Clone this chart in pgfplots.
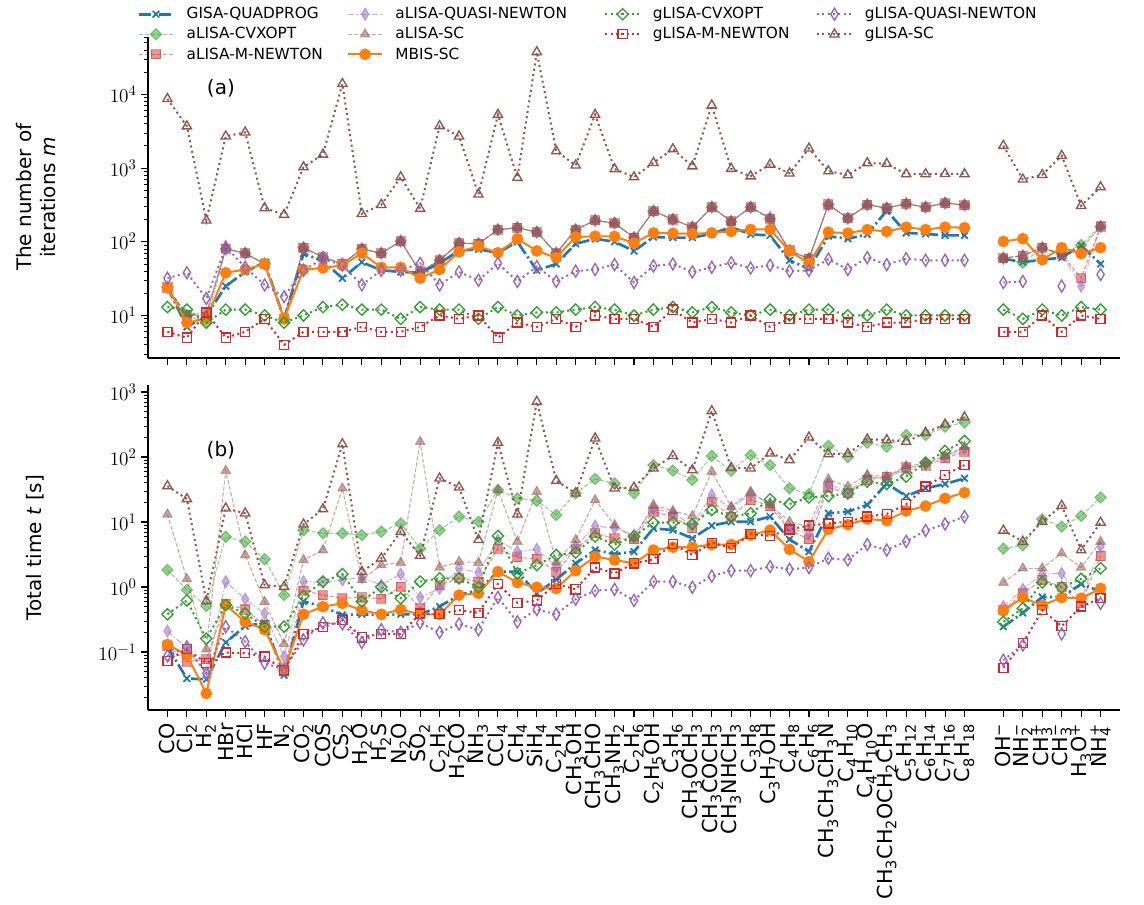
\documentclass[border=0pt]{standalone}
\usepackage{fontspec}
\setmainfont{DejaVu Sans}
\usepackage{pgfplots}
\usepackage{pgfplotstable}
\pgfplotsset{compat=1.18}
\definecolor{tblue}{HTML}{1F77B4}
\definecolor{torange}{HTML}{FF7F0E}
\definecolor{tgreen}{HTML}{2CA02C}
\definecolor{tred}{HTML}{D62728}
\definecolor{tpurple}{HTML}{9467BD}
\definecolor{tbrown}{HTML}{8C564B}
\newcommand{\s}[1]{\textsubscript{#1}}
\newcommand{\p}[1]{\textsuperscript{#1}}
\newcommand{\subsup}[2]{\textsubscript{\rlap{#1}}\textsuperscript{#2}}

\pgfplotstableread{
x GQ aCV aMN aQN aSC MB gCV gMN gQN gSC
0 24 24 24 24 24 24 13 6 32 8700
1 7 10 10 10 10 8 12 5 38 3700
2 10 8 11 10 10 9 8 11 17 195
3 25 80 80 80 80 38 12 5 85 2700
4 39 70 70 70 70 42 12 6 45 3050
5 53 50 50 50 50 50 10 9 26 287
6 9 9 9 9 9 9 8 4 18 233
7 69 83 83 83 83 42 10 6 41 1030
8 55 62 62 62 62 44 13 6 59 1530
9 32 50 50 50 50 48 14 6 48 13900
10 53 80 80 80 80 70 12 7 26 240
11 41 70 70 70 70 45 12 6 41 318
12 39 102 102 102 102 45 9 6 41 755
13 38 39 39 39 39 32 13 7 51 281
14 51 56 56 56 56 42 12 10 26 3730
15 76 96 96 96 96 73 12 9 39 2700
16 79 94 94 94 94 87 9 10 30 440
17 71 146 146 146 146 71 13 5 51 5300
18 100 155 155 155 155 110 10 8 29 740
19 41 135 135 135 135 75 11 7 46 37500
20 50 70 70 70 70 61 11 9 29 1700
21 94 146 146 146 146 116 12 7 40 1090
22 110 195 195 195 195 119 13 10 42 5300
23 100 179 179 179 179 118 12 9 49 970
24 75 114 114 114 114 96 10 9 28 755
25 116 261 261 261 261 132 12 7 47 1180
26 114 201 201 201 201 130 13 12 50 1810
27 114 158 158 158 158 128 11 8 39 1060
28 128 295 295 295 295 132 13 9 45 7080
29 158 189 189 189 189 138 11 8 52 980
30 126 295 295 295 295 147 10 10 44 775
31 122 205 205 215 205 147 12 7 48 1120
32 56 76 76 76 76 75 10 9 40 850
33 43 59 59 59 59 51 12 9 41 1850
34 119 321 321 321 321 135 12 9 58 910
35 110 208 208 208 208 131 10 8 42 805
36 126 318 318 318 318 146 10 7 61 1170
37 266 287 287 287 287 138 12 8 49 1145
38 132 328 328 328 328 158 10 8 59 830
39 128 295 295 295 295 146 10 9 56 830
40 122 335 335 335 335 158 10 9 56 835
41 122 315 315 315 315 155 10 9 56 830
42 nan nan nan nan nan nan nan nan nan nan
43 59 60 60 60 60 101 12 6 28 2010
44 53 52 65 65 65 110 9 6 29 702
45 57 83 83 83 83 57 12 10 nan 810
46 61 68 68 68 68 83 10 6 25 1470
47 89 91 32 25 80 69 13 10 nan 308
48 50 161 161 161 161 83 12 9 36 552
}\iter

\pgfplotstableread{
x GQ aCV aMN aQN aSC MB gCV gMN gQN gSC
0 0.12 1.83 0.125 0.21 13.1 0.13 0.38 0.073 0.087 35.8
1 0.039 0.9 0.071 0.115 1.33 0.09 0.62 0.11 0.12 22.6
2 0.038 0.51 0.077 0.047 0.11 0.023 0.16 0.068 0.047 0.61
3 0.14 5.9 0.55 1.21 61.7 0.53 0.53 0.098 0.245 16.2
4 0.25 5.0 0.45 0.65 3.1 0.29 0.39 0.096 0.144 13.6
5 0.28 2.67 0.26 0.39 0.59 0.22 0.245 0.085 0.067 1.07
6 0.044 0.75 0.053 0.085 0.133 0.053 0.245 0.052 0.054 1.01
7 0.6 7.5 0.88 1.21 2.6 0.38 0.73 0.19 0.153 9.2
8 0.5 6.7 0.75 1.17 3.7 0.5 1.21 0.24 0.28 15.8
9 0.37 6.7 0.67 1.28 33 0.56 1.58 0.31 0.27 158
10 0.38 6.3 0.69 1.41 1.28 0.44 0.6 0.168 0.14 1.72
11 0.37 7.1 0.66 1.07 2.18 0.38 1.0 0.19 0.22 2.76
12 0.38 9.5 1.01 1.58 2.37 0.45 0.67 0.19 0.2 7.1
13 0.38 3.9 0.47 0.69 172 0.38 1.21 0.39 0.28 3.04
14 0.5 7.5 1.07 0.95 2.0 0.38 1.36 0.38 0.2 47
15 0.75 12.1 1.36 1.94 2.45 0.75 1.36 0.44 0.27 34.1
16 0.9 10.1 1.21 1.66 2.37 0.8 0.99 0.40 0.22 5.3
17 1.72 31 3.9 5.3 31 1.72 6.1 1.11 0.69 166
18 1.72 23.1 2.86 3.5 5.0 1.17 1.62 0.57 0.29 13.1
19 0.8 21.3 2.7 3.8 29.3 0.99 2.18 0.62 0.45 710
20 1.3 12.8 1.72 2.06 2.4 0.95 3.1 1.11 0.38 43.2
21 2.31 27.6 3.8 4.2 5.3 1.78 3.37 0.92 0.65 27.6
22 3.7 45.9 6.7 8.7 21.8 2.93 6.0 2.0 0.88 194
23 3.2 39.4 5.6 8.0 9.0 2.6 4.5 1.62 0.92 33
24 3.5 27.6 5.4 6.3 5.6 2.31 6.0 2.31 0.62 34
25 8.0 75 14.4 16.2 18.3 3.7 9.8 2.67 1.21 67
26 7.5 61.7 12.1 13.6 14.8 4.1 9.8 4.6 1.21 104
27 5.6 44.3 8.0 9.0 12.4 4.1 9.3 3.1 0.99 63
28 8.8 104 20.6 26 59.5 4.5 15.3 4.8 1.47 510
29 10.1 61.7 12.1 16.2 17.2 4.5 12.1 4.0 1.78 68.5
30 10.1 107 21.8 27 29.3 6.3 13.6 6.5 1.78 67
31 12.1 75 17.6 19.4 18.3 7.5 22.3 6.1 2.06 114
32 5.4 33 7.5 8.0 10.1 3.8 18.9 7.7 1.87 90
33 3.5 27 5.4 6.7 8.5 2.45 23.9 8.8 1.98 201
34 13.6 148 34 39 45.3 7.7 25.1 9.5 2.76 111
35 14.4 100 27.6 28 35 9.1 27.6 10.1 2.6 112
36 18.3 166 44.3 49.8 52.9 11.1 41.7 12.1 4.5 187
37 39 144 49.8 47 49.8 10.5 38.4 13.3 3.7 183
38 25 218 69 66 72.8 14.8 49.8 18.7 5.0 172
39 33 218 72.8 78 79.9 17.6 81.8 35 7.4 237
40 38.4 293 95.3 101 104 23.1 124 52.9 9.3 318
41 47 341 121 136 144 28.3 176 75 12.1 408
42 nan nan nan nan nan nan nan nan nan nan
43 0.245 3.9 0.44 0.5 1.17 0.43 0.29 0.057 0.075 7.4
44 0.4 4.4 0.8 0.92 1.94 0.69 0.47 0.136 0.128 5.0
45 0.7 11 1.28 1.58 1.94 0.52 1.18 0.44 nan 10.1
46 0.7 8.5 1.01 1.62 3.3 0.69 0.99 0.25 0.19 17.8
47 1.11 12.4 0.56 0.63 2.0 0.67 1.33 0.5 nan 3.7
48 0.85 23.9 3.0 4.2 5.0 0.95 1.94 0.67 0.56 9.8
}\timet

\tikzset{
  GQ/.style={color=tblue, line width=2pt, dash pattern=on 9pt off 2.5pt on 1.5pt off 2.5pt, mark=x, mark size=3.5pt, mark options={solid, line width=1.3pt}},
  aCV/.style={color=tgreen, opacity=0.5, line width=0.8pt, dash pattern=on 3pt off 1.5pt, mark=square*, mark size=3pt, mark options={solid, rotate=45}},
  aMN/.style={color=tred, opacity=0.5, line width=0.8pt, dash pattern=on 3pt off 1.5pt, mark=square*, mark size=3.4pt, mark options={solid}},
  aQN/.style={color=tpurple, opacity=0.5, line width=0.8pt, dash pattern=on 5pt off 1.5pt on 1pt off 1.5pt, mark=diamond*, mark size=4.5pt, mark options={solid, xscale=0.8}},
  aSC/.style={color=tbrown, opacity=0.5, line width=0.8pt, dash pattern=on 3pt off 1.5pt, mark=triangle*, mark size=4pt, mark options={solid}},
  MB/.style={color=torange, line width=1.5pt, solid, mark=*, mark size=3.6pt},
  gCV/.style={color=tgreen, line width=1.5pt, dash pattern=on 1.5pt off 2.5pt, mark=square, mark size=3pt, mark options={solid, rotate=45, line width=1pt}},
  gMN/.style={color=tred, line width=1.5pt, dash pattern=on 1.5pt off 2.5pt, mark=square, mark size=3.4pt, mark options={solid, line width=1pt}},
  gQN/.style={color=tpurple, line width=1.5pt, dash pattern=on 1.5pt off 2.5pt, mark=diamond, mark size=4.5pt, mark options={solid, xscale=0.8, line width=1pt}},
  gSC/.style={color=tbrown, line width=1.5pt, dash pattern=on 1.5pt off 2.5pt, mark=triangle, mark size=4pt, mark options={solid, line width=1pt}},
}
\pgfplotsset{
  legend image code/.code={\draw[mark repeat=2,mark phase=2,#1] plot coordinates {(0pt,0pt) (13pt,0pt) (26pt,0pt)};},
}

\begin{document}
\begin{tikzpicture}
\path[use as bounding box] (-111pt,-146.25pt) rectangle (747pt,532.5pt);

% top panel
\begin{axis}[scale only axis, width=729pt, height=241pt, at={(0pt,264pt)}, anchor=south west,
  xmin=-1, xmax=49, ymode=log, ymin=2.65, ymax=60700,
  axis x line*=bottom, axis y line*=left,
  axis line style={line width=1pt, -},
  tick align=outside, major tick length=5pt, minor tick length=3pt,
  tick style={black, line width=0.8pt},
  minor tick style={black, line width=0.6pt},
  xtick={0,...,41,43,44,45,46,47,48}, xticklabels={},
  unbounded coords=jump, clip mode=individual,
  yticklabel style={font=\fontsize{15}{15}\selectfont},
  ylabel={The number of\\iterations \textit{m}},
  ylabel style={font=\fontsize{15}{18}\selectfont, align=center, anchor=center, at={(axis description cs:-0.115,0.5)}},
  legend columns=4, legend cell align=left,
  legend style={draw=none, fill=none, font=\fontsize{11.5}{13}\selectfont,
    at={(axis description cs:-0.0154,1.108)}, anchor=north west,
    /tikz/every odd column/.append style={column sep=7pt},
    /tikz/column 2/.append style={column sep=16pt},
    /tikz/column 4/.append style={column sep=26pt},
    /tikz/column 6/.append style={column sep=18pt}, row sep=1pt},
]
\addplot[GQ, forget plot] table[x=x, y=GQ] {\iter};
\addplot[aCV, forget plot] table[x=x, y=aCV] {\iter};
\addplot[aMN, forget plot] table[x=x, y=aMN] {\iter};
\addplot[aQN, forget plot] table[x=x, y=aQN] {\iter};
\addplot[aSC, forget plot] table[x=x, y=aSC] {\iter};
\addplot[MB, forget plot] table[x=x, y=MB] {\iter};
\addplot[gCV, forget plot] table[x=x, y=gCV] {\iter};
\addplot[gMN, forget plot] table[x=x, y=gMN] {\iter};
\addplot[gQN, forget plot] table[x=x, y=gQN] {\iter};
\addplot[gSC, forget plot] table[x=x, y=gSC] {\iter};
\addlegendimage{GQ}\addlegendentry{GISA-QUADPROG}
\addlegendimage{aQN}\addlegendentry{aLISA-QUASI-NEWTON}
\addlegendimage{gCV}\addlegendentry{gLISA-CVXOPT}
\addlegendimage{gQN}\addlegendentry{gLISA-QUASI-NEWTON}
\addlegendimage{aCV}\addlegendentry{aLISA-CVXOPT}
\addlegendimage{aSC}\addlegendentry{aLISA-SC}
\addlegendimage{gMN}\addlegendentry{gLISA-M-NEWTON}
\addlegendimage{gSC}\addlegendentry{gLISA-SC}
\addlegendimage{aMN}\addlegendentry{aLISA-M-NEWTON}
\addlegendimage{MB}\addlegendentry{MBIS-SC}
\node[font=\fontsize{15}{15}\selectfont] at (rel axis cs:0.075,0.84) {(a)};
\end{axis}

% bottom panel
\begin{axis}[scale only axis, width=729pt, height=243.75pt, at={(0pt,0pt)}, anchor=south west,
  xmin=-1, xmax=49, ymode=log, ymin=0.0128, ymax=1282,
  axis x line*=bottom, axis y line*=left,
  axis line style={line width=1pt, -},
  tick align=outside, major tick length=5pt, minor tick length=3pt,
  tick style={black, line width=0.8pt},
  minor tick style={black, line width=0.6pt},
  xtick={0,...,41,43,44,45,46,47,48},
  unbounded coords=jump, clip mode=individual,
  yticklabel style={font=\fontsize{15}{15}\selectfont},
  ylabel={Total time \textit{t} [s]},
  ylabel style={font=\fontsize{15}{18}\selectfont, align=center, anchor=center, at={(axis description cs:-0.116,0.5)}},
  xticklabel shift=1.5pt,
  xticklabel style={rotate=90, anchor=east, font=\fontsize{15.5}{15.5}\selectfont},
  xticklabels={CO, Cl\s{2}, H\s{2}, HBr, HCl, HF, N\s{2}, CO\s{2}, COS, CS\s{2}, H\s{2}O, H\s{2}S, N\s{2}O, SO\s{2}, C\s{2}H\s{2}, H\s{2}CO, NH\s{3}, CCl\s{4}, CH\s{4}, SiH\s{4}, C\s{2}H\s{4}, CH\s{3}OH, CH\s{3}CHO, CH\s{3}NH\s{2}, C\s{2}H\s{6}, C\s{2}H\s{5}OH, C\s{3}H\s{6}, CH\s{3}OCH\s{3}, CH\s{3}COCH\s{3}, CH\s{3}NHCH\s{3}, C\s{3}H\s{8}, C\s{3}H\s{7}OH, C\s{4}H\s{8}, C\s{6}H\s{6}, CH\s{3}CH\s{3}CH\s{3}N, C\s{4}H\s{10}, C\s{4}H\s{10}O, CH\s{3}CH\s{2}OCH\s{2}CH\s{3}, C\s{5}H\s{12}, C\s{6}H\s{14}, C\s{7}H\s{16}, C\s{8}H\s{18}, OH\p{−}, NH\subsup{2}{−}, CH\subsup{3}{+}, CH\subsup{3}{−}, H\s{3}O\p{+}, NH\subsup{4}{+}},
]
\addplot[GQ] table[x=x, y=GQ] {\timet};
\addplot[aCV] table[x=x, y=aCV] {\timet};
\addplot[aMN] table[x=x, y=aMN] {\timet};
\addplot[aQN] table[x=x, y=aQN] {\timet};
\addplot[aSC] table[x=x, y=aSC] {\timet};
\addplot[MB] table[x=x, y=MB] {\timet};
\addplot[gCV] table[x=x, y=gCV] {\timet};
\addplot[gMN] table[x=x, y=gMN] {\timet};
\addplot[gQN] table[x=x, y=gQN] {\timet};
\addplot[gSC] table[x=x, y=gSC] {\timet};
\node[font=\fontsize{15}{15}\selectfont] at (rel axis cs:0.075,0.8) {(b)};
\end{axis}
\end{tikzpicture}
\end{document}
